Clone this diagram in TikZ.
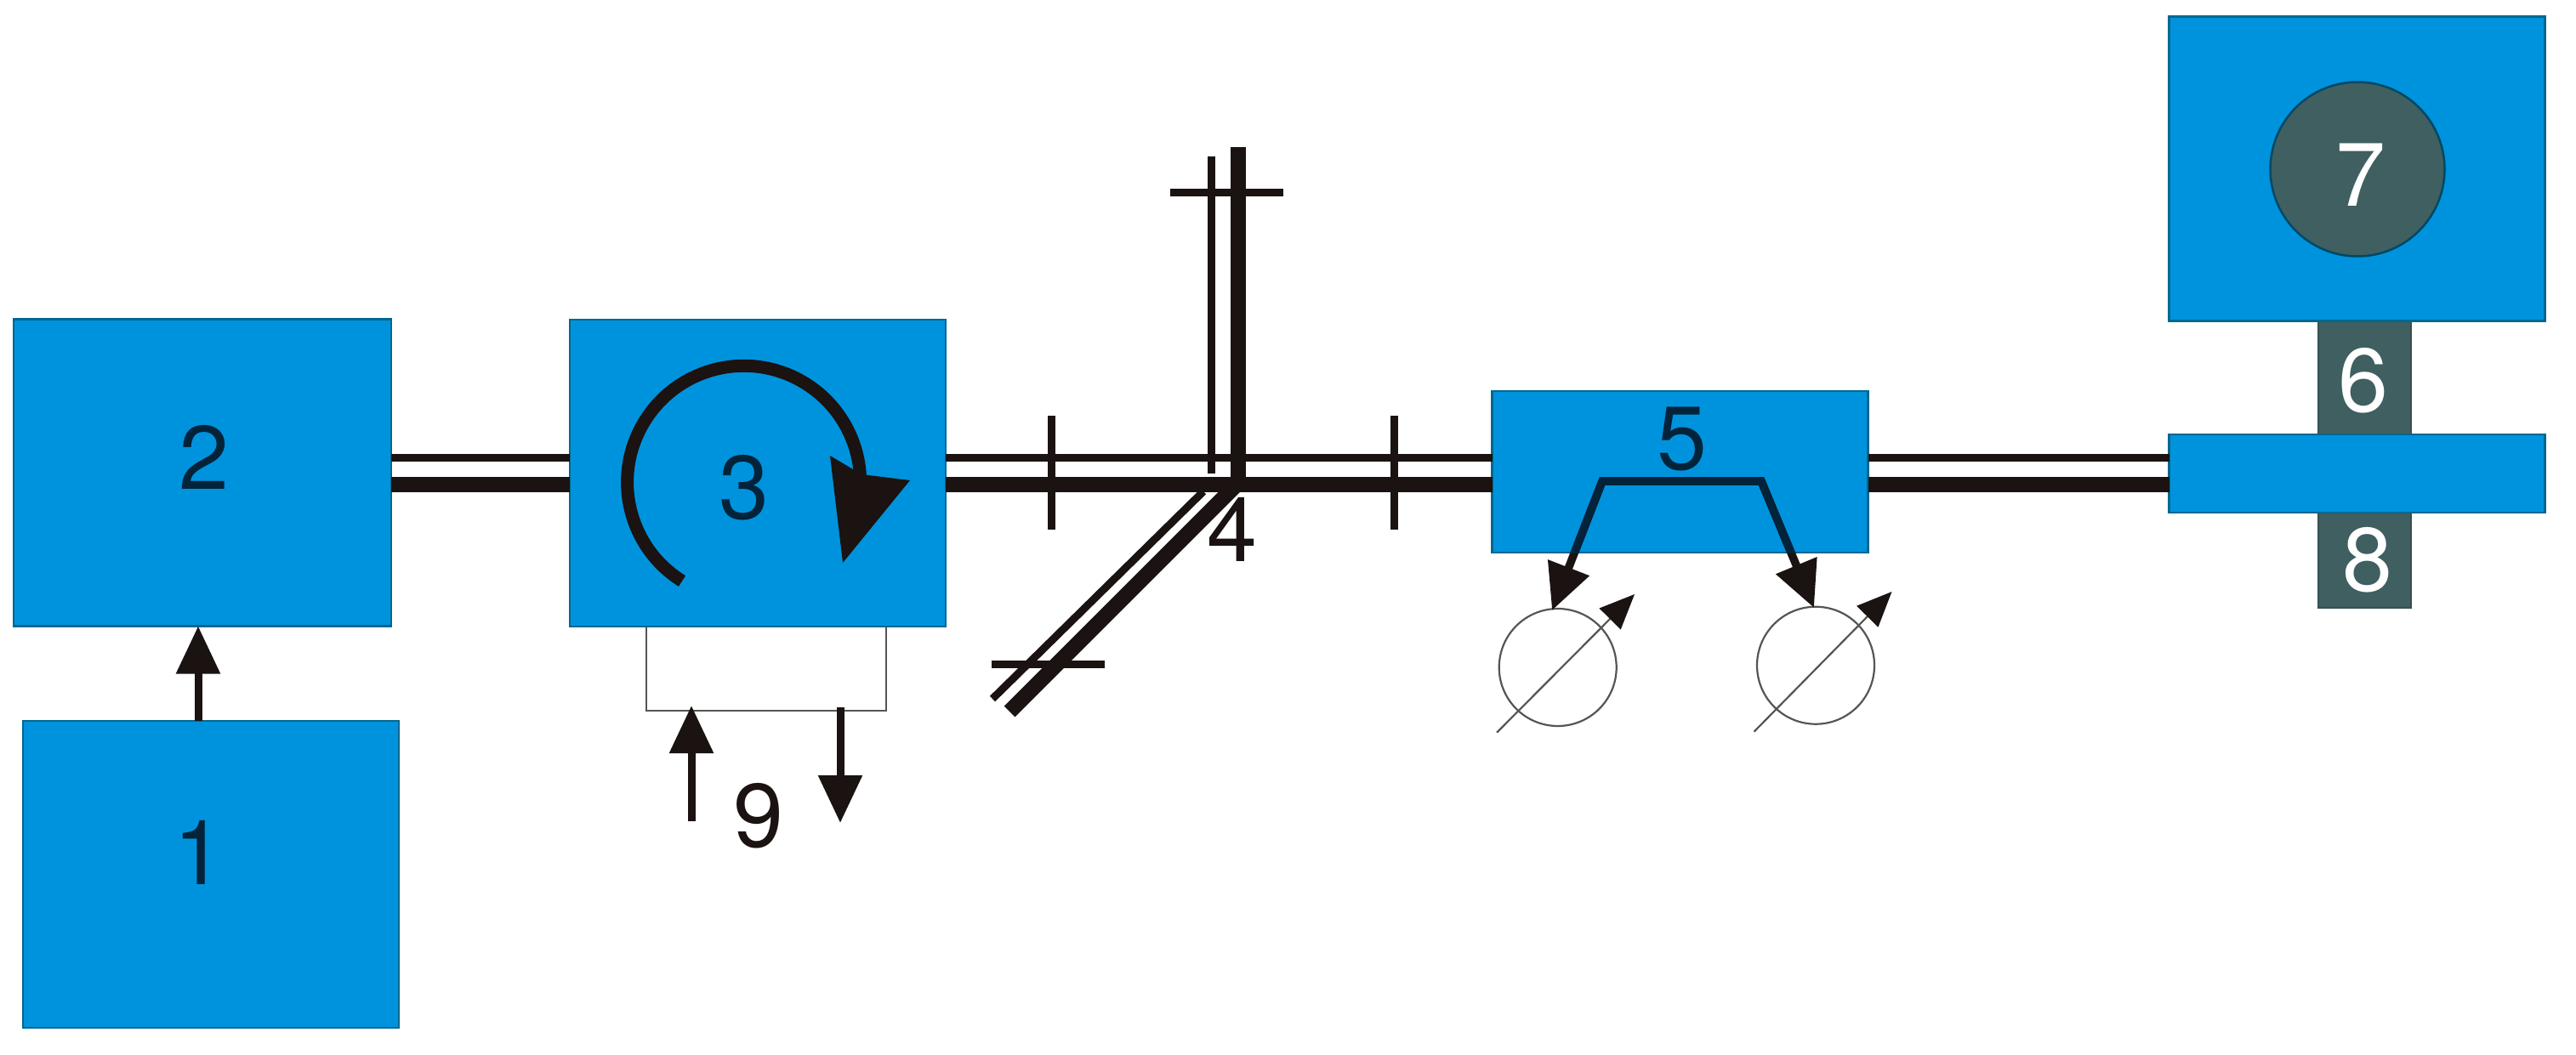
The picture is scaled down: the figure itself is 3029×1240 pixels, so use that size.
\documentclass[tikz,border=0pt]{standalone}
\usepackage{fontspec}
\setmainfont{TeX Gyre Heros}
\usetikzlibrary{arrows.meta,shapes.geometric,calc}
\definecolor{boxblue}{HTML}{0093DD}
\definecolor{boxedge}{HTML}{00688F}
\definecolor{darkteal}{HTML}{3F5F60}
\definecolor{ink}{HTML}{1A1311}
\definecolor{inkonblue}{HTML}{03233A}
\definecolor{wiregray}{HTML}{555555}
\tikzset{
  bluebox/.style={rectangle,draw=boxedge,fill=boxblue,line width=2.5pt,inner sep=0pt,outer sep=0pt},
  darkbox/.style={rectangle,draw=darkteal!85!black,fill=darkteal,line width=2pt,inner sep=0pt,outer sep=0pt},
  numlabel/.style={inner sep=0pt,outer sep=0pt,font=\fontsize{106}{110}\selectfont},
  onblue/.style={numlabel,text=inkonblue},
  onwhite/.style={numlabel,text=ink},
  ondark/.style={numlabel,text=white},
  fiberthin/.style={draw=ink,line width=9pt},
  fiberthick/.style={draw=ink,line width=18pt},
  tickmark/.style={draw=ink,line width=9pt},
  signal/.style={draw=ink,line width=9pt,-{Triangle[length=56pt,width=50pt]}},
  splitter/.style={draw=ink,line width=9.5pt,line join=miter,-{Triangle[length=54pt,width=50pt]}},
  wire/.style={draw=wiregray,line width=2.5pt},
  detector/.style={circle,draw=wiregray,line width=2.2pt,fill=none,minimum size=138pt,inner sep=0pt,outer sep=0pt},
  needle/.style={draw=wiregray,line width=2.2pt,-{Triangle[length=41pt,width=35pt,color=ink]}},
}
\begin{document}
\begin{tikzpicture}[x=1pt,y=-1pt]
\useasboundingbox (0,0) rectangle (3029,1240);
% rows
\coordinate (rowthin) at (0,538);
\coordinate (rowthick) at (0,570);
\coordinate (j4) at (1456,570);
% boxes
\node[bluebox,minimum width=444pt,minimum height=361pt] (b2) at (238,556) {};
\node[bluebox,minimum width=442pt,minimum height=361pt] (b1) at (248,1028.5) {};
\node[bluebox,minimum width=442pt,minimum height=361pt] (b3) at (891,556.5) {};
\node[bluebox,minimum width=442pt,minimum height=190pt] (b5) at (1975.5,555) {};
\node[darkbox,minimum width=109pt,minimum height=340pt] (d68) at (2780.5,545) {};
\node[bluebox,minimum width=442pt,minimum height=358pt] (b7) at (2771.6,198.5) {};
\node[bluebox,minimum width=442pt,minimum height=92pt] (band) at (2771.6,557) {};
\node[circle,draw=boxedge!70!black,fill=darkteal,line width=2.5pt,minimum size=205pt,inner sep=0pt,outer sep=0pt] (c7) at (2772,199) {};
% fibres
\foreach \a/\b in {b2/b3,b3/b5,b5/band}{
  \draw[fiberthin] (\a.east |- rowthin) -- (\b.west |- rowthin);
  \draw[fiberthick] (\a.east |- rowthick) -- (\b.west |- rowthick);
}
% reference arm
\coordinate (armthicktop) at (1456,173);
\coordinate (armthintop) at (1424.5,183.5);
\coordinate (armthinend) at (1424.5,557);
\draw[fiberthick] (j4) -- (armthicktop);
\draw[fiberthin] (armthinend) -- (armthintop);
\coordinate (cutAl) at (1375.5,226.5);
\coordinate (cutAr) at (1509,226.5);
\draw[tickmark] (cutAl) -- (cutAr);
% diagonal arm
\coordinate (diagthickstart) at (1453,571);
\coordinate (diagthickend) at (1187,837);
\coordinate (diagthinstart) at (1415,578);
\coordinate (diagthinend) at (1167,822);
\draw[fiberthick] (diagthickstart) -- (diagthickend);
\draw[fiberthin] (diagthinstart) -- (diagthinend);
\coordinate (cutBl) at (1165.6,781.6);
\coordinate (cutBr) at (1299,781.6);
\draw[tickmark] (cutBl) -- (cutBr);
% ticks
\coordinate (t1a) at (1236,489);\coordinate (t1b) at (1236,623);
\coordinate (t2a) at (1639,489);\coordinate (t2b) at (1639,623);
\draw[tickmark] (t1a) -- (t1b);
\draw[tickmark] (t2a) -- (t2b);
% arrow 1 to 2
\coordinate (a12) at (233,800);
\draw[signal] (a12 |- b1.north) -- (a12 |- b2.south);
% circulating arrow in 3
\coordinate (arcstart) at (802,683.5);
\draw[draw=ink,line width=15pt] (arcstart) arc[start angle=122,end angle=357,radius=137];
\fill[ink] (976,536) -- (1013,558) -- (1070,565) -- (991,662) -- cycle;
% loop 9
\coordinate (wl) at (760,836);
\coordinate (wr) at (1042,836);
\draw[wire] (wl |- b3.south) -- (wl) -- (wr) -- (wr |- b3.south);
\coordinate (upfrom) at (813,966);\coordinate (upto) at (813,830);
\coordinate (dnfrom) at (988,832);\coordinate (dnto) at (988,968);
\draw[signal] (upfrom) -- (upto);
\draw[signal] (dnfrom) -- (dnto);
% detectors
\node[detector] (det1) at (1831.7,785) {};
\node[detector] (det2) at (2135,782.7) {};
\coordinate (n1a) at (1760,861.7);\coordinate (n1b) at (1922,699);
\coordinate (n2a) at (2062.5,860.7);\coordinate (n2b) at (2224.5,696);
\draw[needle] (n1a) -- (n1b);
\draw[needle] (n2a) -- (n2b);
% splitter in 5
\coordinate (sl) at (1884,566);\coordinate (sr) at (2071,566);
\coordinate (tipl) at (1825,718);\coordinate (tipr) at (2133,715);
\draw[splitter] (sr) -- (sl) -- (tipl);
\draw[splitter] (sl) -- (sr) -- (tipr);
\begin{scope}
\clip (b5.north west) rectangle (b5.south east);
\draw[draw=inkonblue,line width=9.5pt,line join=miter] (tipl) -- (sl) -- (sr) -- (tipr);
\end{scope}
% labels
\node[onblue] (l1) at (234,1003) {1};
\node[onblue] (l2) at (240,538) {2};
\node[onblue] (l3) at (875,574) {3};
\node[onwhite] (l4) at (1449,623) {4};
\node[onblue] (l5) at (1978,516.7) {5};
\node[ondark] (l6) at (2779,447.6) {6};
\node[ondark] (l7) at (2776,206) {7};
\node[ondark] (l8) at (2784,659) {8};
\node[onwhite] (l9) at (892,960) {9};
\end{tikzpicture}
\end{document}
